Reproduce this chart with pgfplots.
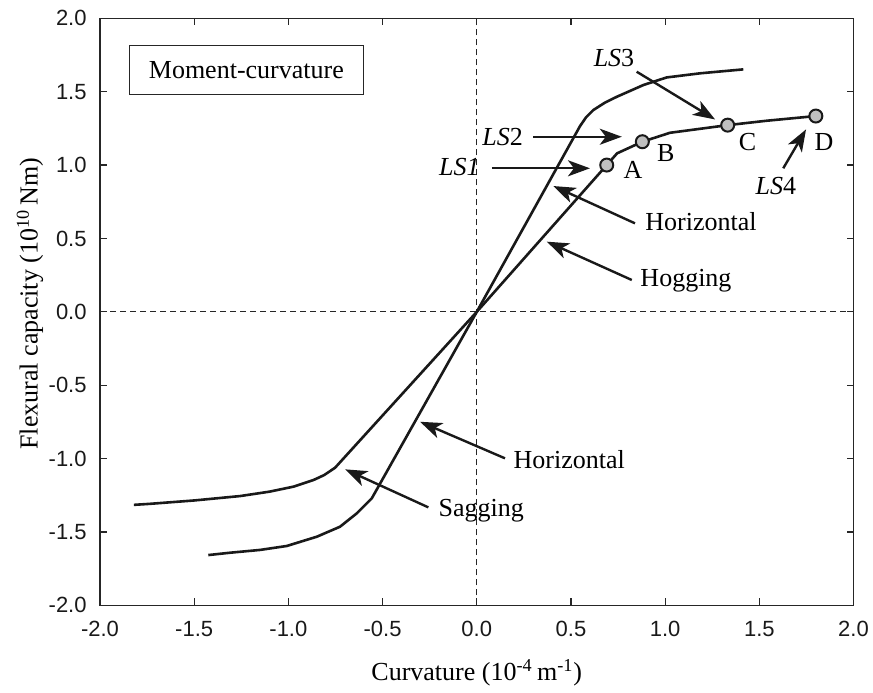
\documentclass[border=0pt]{standalone}
\usepackage{pgfplots}
\pgfplotsset{compat=1.18}
\usepackage{fontspec}
\setmainfont{Liberation Serif}
\newfontfamily\ticksans{Liberation Sans}
\usetikzlibrary{arrows.meta}

\tikzset{ann/.style={line width=1.2pt, black!90, -{Stealth[length=11pt,width=8pt,inset=3pt]}},
  lab/.style={anchor=base west, inner sep=0pt, font=\fontsize{13}{15}\selectfont}}

\begin{document}
\begin{tikzpicture}
\begin{axis}[
  scale only axis, width=376.75pt, height=293.55pt,
  xmin=-2, xmax=2, ymin=-2, ymax=2,
  xtick={-2,-1.5,-1,-0.5,0,0.5,1,1.5,2},
  ytick={-2,-1.5,-1,-0.5,0,0.5,1,1.5,2},
  tick align=inside, major tick length=3.5pt,
  axis line style={line width=0.75pt, black!85},
  tick style={line width=0.6pt, black!85},
  /pgf/number format/assume math mode=true,
  /pgf/number format/fixed, /pgf/number format/fixed zerofill, /pgf/number format/precision=1,
  ticklabel style={font=\ticksans\fontsize{11}{12}\selectfont, black!90},
  xticklabel style={anchor=center, inner sep=0pt, yshift=-11.8pt},
  yticklabel style={anchor=east, inner sep=0pt, xshift=-6.5pt},
  xlabel={Curvature (10\textsuperscript{-4}\,m\textsuperscript{-1})},
  ylabel={Flexural capacity (10\textsuperscript{10}\,Nm)},
  every axis x label/.style={at={(axis description cs:0.5,-0.115)}, anchor=center, font=\fontsize{13}{15}\selectfont},
  every axis y label/.style={at={(axis description cs:-0.0929,0.514)}, rotate=90, anchor=center, font=\fontsize{13}{15}\selectfont},
  clip=false,
]
% reference dashed lines
\addplot[line width=0.5pt, black!85, dash pattern=on 3pt off 2pt] coordinates {(0,-2) (0,2)};
\addplot[line width=0.5pt, black!85, dash pattern=on 3pt off 2pt] coordinates {(-2,0) (2,0)};

% Hogging (positive) / Sagging (negative)
\addplot[line width=1.3pt, black!90] coordinates {
(-1.82,-1.315) (-1.735,-1.308) (-1.5,-1.285) (-1.256,-1.255) (-1.1,-1.225)
(-0.973,-1.191) (-0.867,-1.146) (-0.81,-1.112) (-0.752,-1.062) (0,0)
(0.69,1.0) (0.745,1.08) (0.879,1.159) (1.026,1.22) (1.332,1.272) (1.539,1.302) (1.80,1.334)};

% Horizontal
\addplot[line width=1.3pt, black!90] coordinates {
(-1.425,-1.657) (-1.309,-1.641) (-1.15,-1.622) (-1.008,-1.595) (-0.849,-1.532)
(-0.726,-1.464) (-0.637,-1.373) (-0.557,-1.27) (0,0) (0.548,1.265) (0.58,1.325)
(0.619,1.375) (0.68,1.425) (0.743,1.465) (0.884,1.545) (1.008,1.597) (1.185,1.625) (1.415,1.652)};

% limit-state points
\addplot[only marks, mark=*, mark size=3.25pt, mark options={fill=black!25, draw=black!90, line width=1pt}]
coordinates {(0.69,1.0) (0.879,1.159) (1.332,1.272) (1.80,1.334)};

% box
\node[draw=black!85, line width=0.6pt, minimum width=117pt, minimum height=24.15pt, inner sep=0pt,
  font=\fontsize{13}{15}\selectfont] at (axis cs:-1.223,1.648) {Moment-curvature};

% labels
\node[lab, anchor=base east] at (axis cs:0.0175,0.932) {\textit{LS1}};
\node[lab, anchor=base east] at (axis cs:0.247,1.136) {\textit{LS}2};
\node[lab] at (axis cs:0.619,1.670) {\textit{LS}3};
\node[lab] at (axis cs:1.478,0.802) {\textit{LS}4};
\node[lab] at (axis cs:0.777,0.909) {A};
\node[lab] at (axis cs:0.955,1.022) {B};
\node[lab] at (axis cs:1.389,1.102) {C};
\node[lab] at (axis cs:1.792,1.102) {D};
\node[lab] at (axis cs:0.893,0.552) {Horizontal};
\node[lab] at (axis cs:0.867,0.171) {Hogging};
\node[lab] at (axis cs:0.194,-1.066) {Horizontal};
\node[lab] at (axis cs:-0.204,-1.396) {Sagging};

% arrows
\draw[ann] (axis cs:0.08,0.978) -- (axis cs:0.601,0.978);
\draw[ann] (axis cs:0.30,1.193) -- (axis cs:0.77,1.193);
\draw[ann] (axis cs:0.849,1.636) -- (axis cs:1.265,1.311);
\draw[ann] (axis cs:1.627,0.978) -- (axis cs:1.748,1.243);
\draw[ann] (axis cs:0.84,0.603) -- (axis cs:0.407,0.857);
\draw[ann] (axis cs:0.823,0.217) -- (axis cs:0.372,0.478);
\draw[ann] (axis cs:0.150,-0.998) -- (axis cs:-0.301,-0.749);
\draw[ann] (axis cs:-0.257,-1.332) -- (axis cs:-0.699,-1.073);
\end{axis}
\path ([xshift=-50pt,yshift=-42.3pt]current axis.south west) rectangle ([xshift=9.75pt,yshift=9.15pt]current axis.north east);
\end{tikzpicture}
\end{document}
